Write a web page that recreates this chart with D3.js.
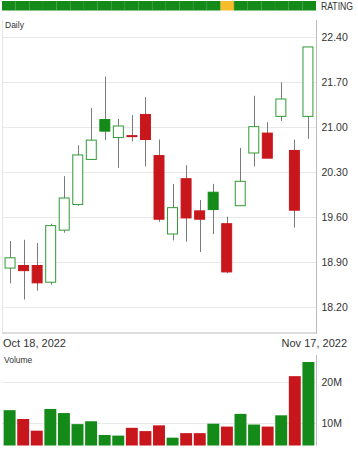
<!DOCTYPE html>
<html><head><meta charset="utf-8">
<script src="https://cdn.jsdelivr.net/npm/d3@7"></script>
<style>
html,body{margin:0;padding:0;background:#fff;}
svg{display:block;font-family:"Liberation Sans",Arial,Helvetica,sans-serif;}
</style></head>
<body>
<svg id="c" width="358" height="450"></svg>
<script>
const dates = ["Oct 18, 2022","Oct 19, 2022","Oct 20, 2022","Oct 21, 2022","Oct 24, 2022","Oct 25, 2022","Oct 26, 2022","Oct 27, 2022","Oct 28, 2022","Oct 31, 2022","Nov 1, 2022","Nov 2, 2022","Nov 3, 2022","Nov 4, 2022","Nov 7, 2022","Nov 8, 2022","Nov 9, 2022","Nov 10, 2022","Nov 11, 2022","Nov 14, 2022","Nov 15, 2022","Nov 16, 2022","Nov 17, 2022"];
const open  = [18.81,18.85,18.85,18.59,19.40,19.80,20.50,21.12,20.84,20.87,21.20,20.56,19.34,20.20,19.70,19.99,19.50,19.78,20.60,20.91,21.17,20.64,21.17];
const high  = [19.23,19.25,19.20,19.50,20.24,20.72,21.30,21.79,21.13,21.19,21.47,20.81,20.12,20.41,19.87,20.12,19.61,20.68,21.49,21.08,21.70,20.81,22.25];
const low   = [18.57,18.32,18.46,18.55,19.36,19.78,20.50,20.80,20.37,20.78,20.39,19.53,19.24,19.22,19.06,19.34,18.73,19.78,20.39,20.52,21.10,19.44,20.82];
const close = [18.97,18.77,18.58,19.47,19.90,20.57,20.80,20.94,21.02,20.86,20.81,19.57,19.75,19.59,19.57,19.72,18.75,20.16,21.01,20.52,21.44,19.71,22.25];
const priorClose = 18.70;
const volume = [13.2,11.05,8.2,13.5,12.5,9.8,10.5,7.15,7.0,8.9,8.1,9.5,6.5,7.6,7.6,9.9,9.2,12.3,9.7,9.2,11.95,21.5,24.95];
const rating = ["good","good","good","good","good","good","good","good","good","good","good","good","good","good","good","good","neutral","good","good","good","good","good","good"];
const priceTicks = [18.20,18.90,19.60,20.30,21.00,21.70,22.40];
const volumeTicks = [10,20];

(function(){
const GREEN = "#148a18", RED = "#c8171c", HOLLOW = "#2f9a33", WICK = "#7a7a7a", YELLOW = "#f7bc2a";
const TXT = "#333", FS = 10.5;
const svg = d3.select("#c");
const L = 2, R = 316;
const idx = d3.range(dates.length);

// Rating bar
const xr = d3.scaleBand().domain(idx).range([L, R]).padding(0);
svg.append("g").selectAll("rect").data(rating).join("rect")
  .attr("x", (d,i)=>xr(i)).attr("y", 1).attr("width", xr.bandwidth()).attr("height", 9.5)
  .attr("fill", d => d === "good" ? GREEN : YELLOW);
svg.append("g").selectAll("line").data(idx.slice(1)).join("line")
  .attr("x1", i=>xr(i)).attr("x2", i=>xr(i)).attr("y1",1).attr("y2",10.5)
  .attr("stroke","#3aa23e").attr("stroke-width",0.6).attr("opacity",0.6);
svg.append("text").attr("x", 321).attr("y", 9.5).attr("font-size", 10)
  .attr("textLength", 32).attr("lengthAdjust","spacingAndGlyphs").attr("fill",TXT).text("RATING");

// Main price plot
const pTop = 20, pBottom = 333;
const y = d3.scaleLinear().domain([17.80, 22.669]).range([pBottom, pTop]);
const x = d3.scaleBand().domain(idx).range([L, R]).padding(0.19);

svg.append("g").selectAll("line").data(priceTicks).join("line")
  .attr("x1", L).attr("x2", R).attr("y1", d=>Math.round(y(d))+0.5).attr("y2", d=>Math.round(y(d))+0.5)
  .attr("stroke","#e9e9e9").attr("stroke-width",1);
svg.append("line").attr("x1",L+0.5).attr("x2",L+0.5).attr("y1",pTop).attr("y2",pBottom).attr("stroke","#e6e6e6");
svg.append("line").attr("x1",L).attr("x2",R).attr("y1",pBottom).attr("y2",pBottom).attr("stroke","#dcdcdc").attr("stroke-width",2);
svg.append("line").attr("x1",R+0.5).attr("x2",R+0.5).attr("y1",pTop).attr("y2",pBottom+1).attr("stroke","#bdbdbd");

const yAxis = d3.axisRight(y).tickValues(priceTicks).tickFormat(d3.format(".2f")).tickSize(0).tickPadding(5.5);
const ga = svg.append("g").attr("transform",`translate(${R},0)`).call(yAxis);
ga.select(".domain").remove();
ga.selectAll("text").attr("font-size",FS).attr("fill",TXT).attr("font-family","Liberation Sans, Arial, sans-serif");

svg.append("text").attr("x",5).attr("y",28).attr("font-size",8.5).attr("fill",TXT).text("Daily");

const candles = idx.map(i => {
  const prev = i === 0 ? priorClose : close[i-1];
  return {i, o:open[i], h:high[i], l:low[i], c:close[i], up: close[i] >= prev, hollow: close[i] > open[i]};
});
const cx = d => x(d.i) + x.bandwidth()/2;
svg.append("g").selectAll("line").data(candles).join("line")
  .attr("x1", d=>Math.round(cx(d))+0.5).attr("x2", d=>Math.round(cx(d))+0.5)
  .attr("y1", d=>y(d.h)).attr("y2", d=>y(d.l))
  .attr("stroke", WICK).attr("stroke-width",1);
svg.append("g").selectAll("rect").data(candles).join("rect")
  .attr("x", d=>x(d.i)+0.5).attr("width", x.bandwidth()-1)
  .attr("y", d=>y(Math.max(d.o,d.c))).attr("height", d=>Math.max(1, Math.abs(y(d.o)-y(d.c))))
  .attr("fill", d=> d.hollow ? "#fff" : (d.up ? GREEN : RED))
  .attr("stroke", d=> d.hollow ? HOLLOW : (d.up ? GREEN : RED))
  .attr("stroke-width", 1);

svg.append("text").attr("x",3).attr("y",347).attr("font-size",11).attr("fill",TXT).text(dates[0]);
svg.append("text").attr("x",347).attr("y",347).attr("text-anchor","end").attr("font-size",11).attr("fill",TXT).text(dates[dates.length-1]);

// Volume panel
const vTop = 355, vBottom = 445.5;
const yv = d3.scaleLinear().domain([4.585, 26.66]).range([vBottom, vTop]);
const xv = d3.scaleBand().domain(idx).range([L, R]).padding(0.12);
svg.append("g").selectAll("line").data(volumeTicks).join("line")
  .attr("x1", L).attr("x2", R).attr("y1", d=>Math.round(yv(d))+0.5).attr("y2", d=>Math.round(yv(d))+0.5)
  .attr("stroke","#e9e9e9");
svg.append("g").selectAll("rect").data(candles).join("rect")
  .attr("x", d=>xv(d.i)).attr("width", xv.bandwidth())
  .attr("y", d=>yv(volume[d.i])).attr("height", d=>vBottom - yv(volume[d.i]))
  .attr("fill", d=> d.up ? GREEN : RED);
svg.append("line").attr("x1",R+0.5).attr("x2",R+0.5).attr("y1",vTop).attr("y2",vBottom).attr("stroke","#bdbdbd");
const gv = svg.append("g").attr("transform",`translate(${R},0)`)
  .call(d3.axisRight(yv).tickValues(volumeTicks).tickFormat(d=>d+"M").tickSize(0).tickPadding(5.5));
gv.select(".domain").remove();
gv.selectAll("text").attr("font-size",FS).attr("fill",TXT).attr("font-family","Liberation Sans, Arial, sans-serif");
svg.append("text").attr("x",4).attr("y",363).attr("font-size",8.5).attr("fill",TXT).text("Volume");
})();
</script>
</body></html>
